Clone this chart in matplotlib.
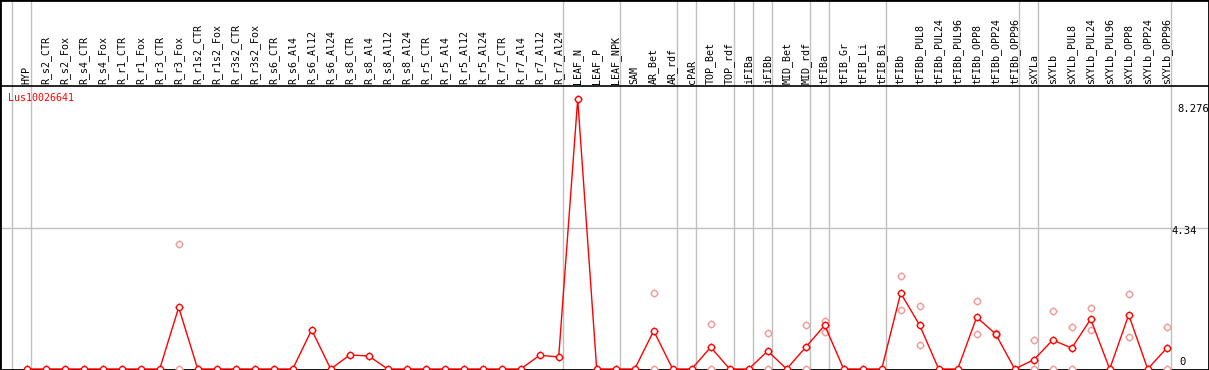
import matplotlib.pyplot as plt
import numpy as np

# Amostras (eixo x)
samples = ['HYP',
           'R_s2_CTR', 'R_s2_Fox', 'R_s4_CTR', 'R_s4_Fox', 'R_r1_CTR', 'R_r1_Fox',
           'R_r3_CTR', 'R_r3_Fox', 'R_r1s2_CTR', 'R_r1s2_Fox', 'R_r3s2_CTR', 'R_r3s2_Fox',
           'R_s6_CTR', 'R_s6_Al4', 'R_s6_Al12', 'R_s6_Al24',
           'R_s8_CTR', 'R_s8_Al4', 'R_s8_Al12', 'R_s8_Al24',
           'R_r5_CTR', 'R_r5_Al4', 'R_r5_Al12', 'R_r5_Al24',
           'R_r7_CTR', 'R_r7_Al4', 'R_r7_Al12', 'R_r7_Al24',
           'LEAF_N', 'LEAF_P', 'LEAF_NPK', 'SAM', 'AR_Bet', 'AR_rdf', 'cPAR',
           'TOP_Bet', 'TOP_rdf', 'iFIBa', 'iFIBb', 'MID_Bet', 'MID_rdf',
           'tFIBa', 'tFIB_Gr', 'tFIB_Li', 'tFIB_Bi', 'tFIBb',
           'tFIBb_PUL8', 'tFIBb_PUL24', 'tFIBb_PUL96', 'tFIBb_OPP8', 'tFIBb_OPP24', 'tFIBb_OPP96',
           'sXYLa', 'sXYLb',
           'sXYLb_PUL8', 'sXYLb_PUL24', 'sXYLb_PUL96', 'sXYLb_OPP8', 'sXYLb_OPP24', 'sXYLb_OPP96']

# Média da expressão
mean_expr = [0, 0, 0, 0, 0, 0, 0, 0, 1.89, 0,
             0, 0, 0, 0, 0, 1.20, 0, 0.43, 0.40, 0,
             0, 0, 0, 0, 0, 0, 0, 0.42, 0.37, 8.276,
             0, 0, 0, 1.17, 0, 0, 0.67, 0, 0, 0.55,
             0, 0.67, 1.34, 0, 0, 0, 2.33, 1.34, 0, 0,
             1.59, 1.07, 0, 0.28, 0.89, 0.64, 1.53, 0, 1.66, 0,
             0.64]

# Réplicas visíveis (nan = não visível)
nan = np.nan
rep_a = [nan] * 61
rep_b = [nan] * 61
for i, a, b in [(8, 3.82, 0), (33, 2.32, 0), (36, 1.37, 0), (39, 1.10, 0),
                (41, 1.34, 0), (42, 1.47, 1.14), (46, 2.85, 1.81), (47, 1.92, 0.73),
                (50, 2.09, 1.06), (51, 1.09, 1.05), (53, 0.89, 0), (54, 1.78, 0),
                (55, 1.29, 0), (56, 1.87, 1.19), (58, 2.30, 0.98), (60, 1.29, 0)]:
    rep_a[i] = a
    rep_b[i] = b

# Fim de cada grupo (linhas cinzentas)
group_ends = [-1, 0, 28, 31, 34, 35, 37, 38, 39, 41, 42, 45, 52, 53, 60]

gene = 'Lus10026641'
y_ticks = [8.276, 4.34, 0]

# ---------- layout em pixels ----------
W, H = 1209, 370
x0, dx = 26.7, 19.0      # pixel x da primeira amostra, passo
y0, sy = 369.0, 32.6     # pixel y do zero, pixels por unidade
header_y = 85.5

fig = plt.figure(figsize=(W / 100, H / 100), dpi=100)
ax = fig.add_axes([0, 0, 1, 1])
ax.set_xlim(-x0 / dx, (W - x0) / dx)
ax.set_ylim(-(H - y0) / sy, y0 / sy)

mono = 'DejaVu Sans Mono'
red = '#ff0000'
pink = '#f09a9a'
grey = '#c0c0c0'

xs = np.arange(len(samples))

# grelha
for g in group_ends:
    ax.axvline(g + 0.21, color=grey, lw=1, zorder=1)
ax.axhline(4.34, color=grey, lw=1, zorder=1)
ax.axhline((y0 - header_y) / sy, color='black', lw=1.2, zorder=2)

# réplicas
for rep in (rep_a, rep_b):
    ax.plot(xs, rep, '+', color=pink, ms=6.2, mew=1, zorder=3)
    ax.plot(xs, rep, 'o', color=pink, ms=4.4, mfc='white', mec=pink, mew=1, zorder=3)

# média
ax.plot(xs, mean_expr, '-', color=red, lw=1, zorder=4)
ax.plot(xs, mean_expr, '+', color=red, ms=6.2, mew=1, zorder=5)
ax.plot(xs, mean_expr, 'o', ms=4.4, mfc='white', mec=red, mew=1, zorder=6)

# rótulos das amostras
lab_frac = 1 - 83.5 / H
for i, s in enumerate(samples):
    ax.text(i, lab_frac, s, transform=ax.get_xaxis_transform(), rotation=90,
            ha='center', va='bottom', fontsize=7.2, family=mono, color='black')

ax.text(-1.0, (y0 - 98) / sy, gene, fontsize=7.2, family=mono, color=red,
        ha='left', va='center')

# valores do eixo y (à direita)
tick_pos = {8.276: (1177, 108.5), 4.34: (1172, 231.5), 0: (1179, 362)}
for t in y_ticks:
    px, py = tick_pos[t]
    ax.text((px - x0) / dx, (y0 - py) / sy, f'{t:g}', fontsize=7.6, family=mono,
            color='black', ha='left', va='center')

for sp in ax.spines.values():
    sp.set_color('black')
    sp.set_linewidth(2)
ax.set_xticks([])
ax.set_yticks([])

fig.savefig('out.png', dpi=100)
